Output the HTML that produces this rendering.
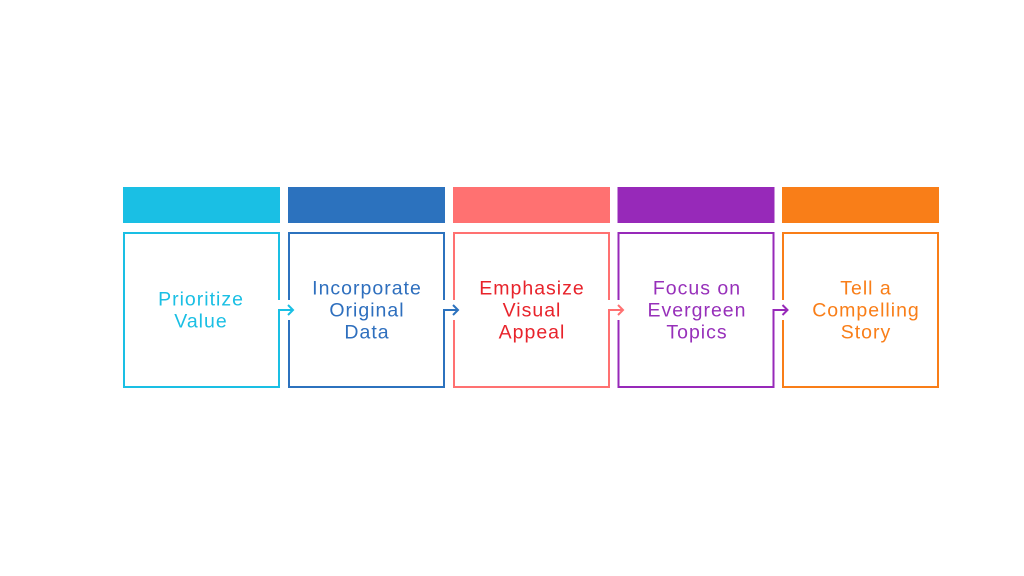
<!DOCTYPE html>
<html><head><meta charset="utf-8"><style>
html,body{margin:0;padding:0;background:#fff;}
svg{display:block;}
text{font-family:"Liberation Sans",sans-serif;font-size:19.5px;letter-spacing:1px;}
</style></head><body>
<svg width="1024" height="576" viewBox="0 0 1024 576" xmlns="http://www.w3.org/2000/svg">
<rect width="1024" height="576" fill="#fff"/>
<!-- top bars -->
<rect x="123" y="187" width="157" height="36" fill="#1ABFE4"/>
<rect x="288" y="187" width="157" height="36" fill="#2C72BE"/>
<rect x="453" y="187" width="157" height="36" fill="#FF7171"/>
<rect x="617.5" y="187" width="157" height="36" fill="#9729B9"/>
<rect x="782" y="187" width="157" height="36" fill="#F97E18"/>
<!-- outline boxes -->
<g fill="none" stroke-width="2">
<rect x="124" y="233" width="155" height="154" stroke="#1ABFE4"/>
<rect x="289" y="233" width="155" height="154" stroke="#2C72BE"/>
<rect x="454" y="233" width="155" height="154" stroke="#FF7171"/>
<rect x="618.5" y="233" width="155" height="154" stroke="#9729B9"/>
<rect x="783" y="233" width="155" height="154" stroke="#F97E18"/>
</g>
<!-- gaps -->
<g fill="#fff">
<rect x="277" y="300" width="4" height="9"/><rect x="287" y="300" width="4" height="20"/>
<rect x="442" y="300" width="4" height="9"/><rect x="452" y="300" width="4" height="20"/>
<rect x="607" y="300" width="4" height="9"/><rect x="616.5" y="300" width="4" height="20"/>
<rect x="771.5" y="300" width="4" height="9"/><rect x="781" y="300" width="4" height="20"/>
</g>
<!-- connectors -->
<g fill="none" stroke-width="2" stroke-linecap="butt" stroke-linejoin="miter">
<path d="M279 309 V310 H293 M288 305 L293 310 L288 315" stroke="#1ABFE4"/>
<path d="M444 309 V310 H458 M453 305 L458 310 L453 315" stroke="#2C72BE"/>
<path d="M609 309 V310 H623 M618 305 L623 310 L618 315" stroke="#FF7171"/>
<path d="M773.5 309 V310 H787.5 M782.5 305 L787.5 310 L782.5 315" stroke="#9729B9"/>
</g>
<!-- labels -->
<g text-anchor="middle">
<text x="201" y="305.5" fill="#1ABFE4">Prioritize</text>
<text x="201" y="327.5" fill="#1ABFE4">Value</text>
<text x="367" y="294.5" fill="#2E6FBE">Incorporate</text>
<text x="367" y="316.5" fill="#2E6FBE">Original</text>
<text x="367" y="338.5" fill="#2E6FBE">Data</text>
<text x="532" y="294.5" fill="#E8232B">Emphasize</text>
<text x="532" y="316.5" fill="#E8232B">Visual</text>
<text x="532" y="338.5" fill="#E8232B">Appeal</text>
<text x="697" y="294.5" fill="#9730BA">Focus on</text>
<text x="697" y="316.5" fill="#9730BA">Evergreen</text>
<text x="697" y="338.5" fill="#9730BA">Topics</text>
<text x="866" y="294.5" fill="#F97E18">Tell a</text>
<text x="866" y="316.5" fill="#F97E18">Compelling</text>
<text x="866" y="338.5" fill="#F97E18">Story</text>
</g>
</svg>
</body></html>
